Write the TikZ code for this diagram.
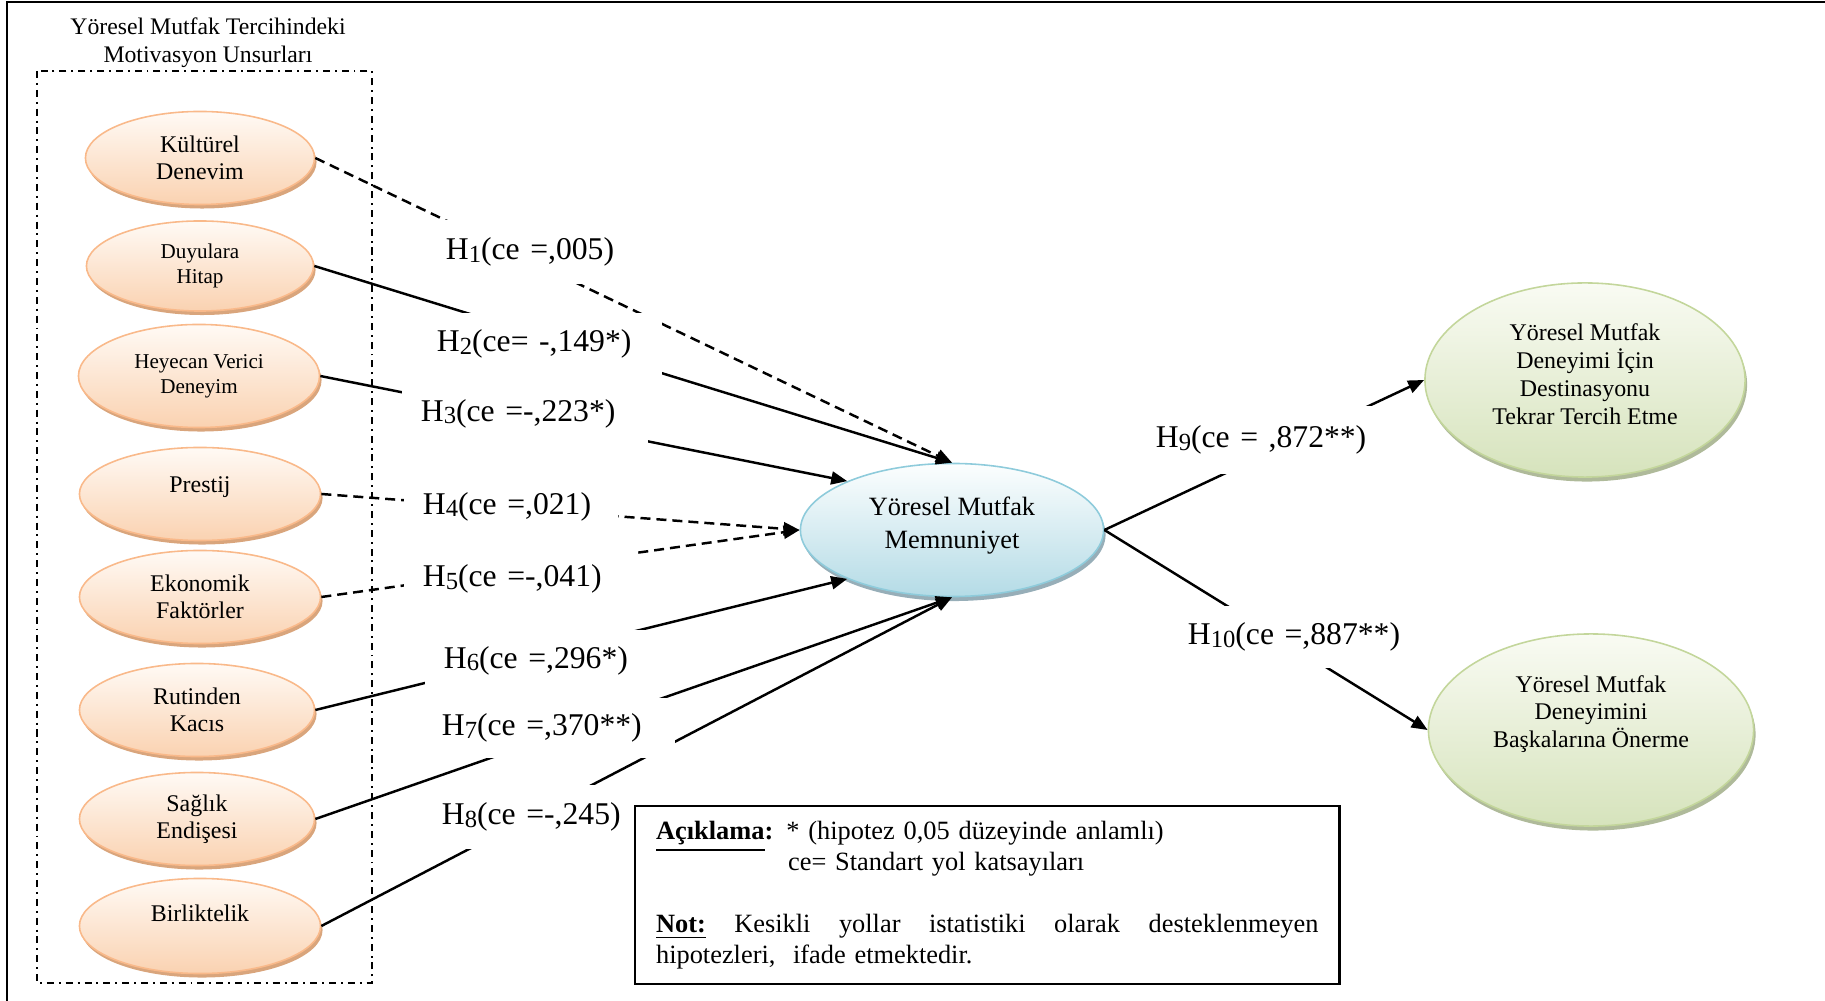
\documentclass[tikz,border=0pt]{standalone}
\usepackage{fontspec}
\setmainfont{Liberation Serif}
\usetikzlibrary{arrows.meta,shapes.geometric,shadows}

\definecolor{turKenar}{HTML}{F9B98A}
\definecolor{turUst}{HTML}{FFFAF5}
\definecolor{turAlt}{HTML}{FAD2B1}
\definecolor{turGolge}{HTML}{D9A57C}
\definecolor{maviKenar}{HTML}{8ECBDB}
\definecolor{maviUst}{HTML}{FCFEFE}
\definecolor{maviAlt}{HTML}{B4DBE6}
\definecolor{maviGolge}{HTML}{97AEB8}
\definecolor{yesilKenar}{HTML}{C3D69B}
\definecolor{yesilUst}{HTML}{F9FBF3}
\definecolor{yesilAlt}{HTML}{D6E3BC}
\definecolor{yesilGolge}{HTML}{AFBA9A}

\newcommand{\hsub}[1]{\raisebox{-0.7pt}{\fontsize{7}{7}\selectfont #1}}

\tikzset{
	faktor/.style={ellipse, draw=turKenar, line width=0.45pt, top color=turUst, bottom color=turAlt,
		drop shadow={shadow xshift=0.02cm, shadow yshift=-0.04cm, fill=turGolge, opacity=1},
		inner sep=0pt, minimum width=2.41cm, minimum height=0.93cm, align=center,
		font=\fontsize{6.8}{7.8}\selectfont},
	kfaktor/.style={faktor, font=\fontsize{6}{7.1}\selectfont},
	memn/.style={ellipse, draw=maviKenar, line width=0.45pt, top color=maviUst, bottom color=maviAlt,
		drop shadow={shadow xshift=0.02cm, shadow yshift=-0.045cm, fill=maviGolge, opacity=1},
		inner sep=0pt, minimum width=3.03cm, minimum height=1.33cm, align=center,
		font=\fontsize{7.5}{9.2}\selectfont},
	sonuc/.style={ellipse, draw=yesilKenar, line width=0.45pt, top color=yesilUst, bottom color=yesilAlt,
		drop shadow={shadow xshift=0.02cm, shadow yshift=-0.045cm, fill=yesilGolge, opacity=1},
		inner sep=0pt, align=center, font=\fontsize{6.8}{7.9}\selectfont},
	baslik/.style={align=center, inner sep=0pt, font=\fontsize{6.75}{7.94}\selectfont},
	grup/.style={line width=0.45pt, dash pattern=on 2pt off 1.4pt on 0.55pt off 1.4pt},
	hyol/.style={line width=0.7pt, -{Triangle[length=0.16cm, width=0.13cm]}},
	hkes/.style={hyol, dash pattern=on 2.85pt off 1.7pt},
	hlab/.style={fill=white, inner xsep=0.19cm, inner ysep=0pt, align=left,
		font=\fontsize{9}{10.8}\selectfont},
	aciklama/.style={draw, line width=0.6pt, inner xsep=0.21cm, inner ysep=0pt, text width=6.62cm,
		minimum height=1.78cm, align=left, font=\fontsize{7.5}{8.8}\selectfont}
}

\begin{document}
\begin{tikzpicture}[x=0.01cm, y=-0.01cm]
		%%%%% START %%%%%
		\useasboundingbox (0, 0) rectangle (1825, 1001);
		
		\draw[line width=0.7pt] (7, 1001) -- (7, 2) -- (1825, 2);
		
		\node[baslik] (baslik) at (208, 42.5) {Yöresel Mutfak Tercihindeki\\Motivasyon Unsurları};
		\draw[grup] (37, 71) rectangle (372, 983);
		
		%% motivasyon unsurlari
		\node[faktor, minimum width=2.29cm] (kultur) at (200, 158) {Kültürel\\Denevim};
		\node[kfaktor, minimum width=2.27cm, minimum height=0.90cm] (duyu) at (200, 266) {Duyulara\\Hitap};
		\node[kfaktor, minimum height=1.03cm] (heyecan) at (199, 376) {Heyecan Verici\\Deneyim};
		\node[faktor, text depth=0.18cm] (prestij) at (200, 494) {Prestij};
		\node[faktor] (ekonomik) at (200, 597) {Ekonomik\\Faktörler};
		\node[faktor, minimum width=2.35cm] (rutin) at (197, 710) {Rutinden\\Kacıs};
		\node[faktor, minimum width=2.35cm] (saglik) at (197, 819) {Sağlık\\Endişesi};
		\node[faktor, minimum height=0.95cm, text depth=0.26cm] (birlik) at (200, 926) {Birliktelik};
		
		%% memnuniyet ve sonuclar
		\node[memn, text depth=0.145cm] (mem) at (952, 530) {Yöresel Mutfak\\Memnuniyet};
		\node[sonuc, minimum width=3.20cm, minimum height=1.94cm, text depth=0.12cm] (tercih) at (1585, 380) {Yöresel Mutfak\\Deneyimi İçin\\Destinasyonu\\Tekrar Tercih Etme};
		\node[sonuc, minimum width=3.25cm, minimum height=1.92cm, text depth=0.37cm] (oneri) at (1591, 730) {Yöresel Mutfak\\Deneyimini\\Başkalarına Önerme};
		
		%% yollar
		\draw[hkes] (kultur.east) -- (mem.north);
		\draw[hyol] (duyu.east) -- (mem.north);
		\draw[hyol] (heyecan.east) -- (mem.155);
		\draw[hkes] (prestij.east) -- (mem.west);
		\draw[hkes] (ekonomik.east) -- (mem.west);
		\draw[hyol] (rutin.east) -- (mem.205);
		\draw[hyol] (saglik.east) -- (mem.south);
		\draw[hyol] (birlik.east) -- (mem.south);
		\draw[hyol] (mem.east) -- (tercih.west);
		\draw[hyol] (mem.east) -- (oneri.west);
		
		%% hipotezler
		\node[hlab, text width=1.80cm, minimum height=0.64cm] (h1) at (536, 252) {H\hsub{1}(ce =,005)};
		\node[hlab, text width=2.06cm, minimum height=0.61cm] (h2) at (540, 344) {H\hsub{2}(ce= -,149*)};
		\node[hlab, text width=2.08cm, minimum height=0.60cm] (h3) at (525, 413.5) {H\hsub{3}(ce =-,223*)};
		\node[hlab, text width=1.76cm, minimum height=0.58cm] (h4) at (511, 506.5) {H\hsub{4}(ce =,021)};
		\node[hlab, text width=1.94cm, minimum height=0.60cm] (h5) at (520, 579) {H\hsub{5}(ce =-,041)};
		\node[hlab, text width=1.94cm, minimum height=0.60cm] (h6) at (541, 660.5) {H\hsub{6}(ce =,296*)};
		\node[hlab, text width=2.14cm, minimum height=0.60cm] (h7) at (549, 728) {H\hsub{7}(ce =,370**)};
		\node[hlab, text width=1.89cm, minimum height=0.64cm] (h8) at (536.5, 817) {H\hsub{8}(ce =-,245)};
		\node[hlab, text width=2.25cm, minimum height=0.68cm] (h9) at (1268.5, 440) {H\hsub{9}(ce = ,872**)};
		\node[hlab, text width=2.23cm, minimum height=0.62cm] (h10) at (1299.5, 637) {H\hsub{10}(ce =,887**)};
		
		%% aciklama kutusu
		\node[aciklama, anchor=north west] (aciklama) at (634, 805) {\underline{\textbf{Açıklama}}\textbf{:} * (hipotez 0,05 düzeyinde anlamlı)\\
			\hspace*{1.32cm}ce= Standart yol katsayıları\\[8.8pt]
			\makebox[6.62cm][l]{\underline{\textbf{Not:}}\hfill Kesikli\hfill yollar\hfill istatistiki\hfill olarak\hfill desteklenmeyen}\\
			hipotezleri,\ \ ifade etmektedir.};
		
		%%%%% END %%%%%
	\end{tikzpicture}
\end{document}
